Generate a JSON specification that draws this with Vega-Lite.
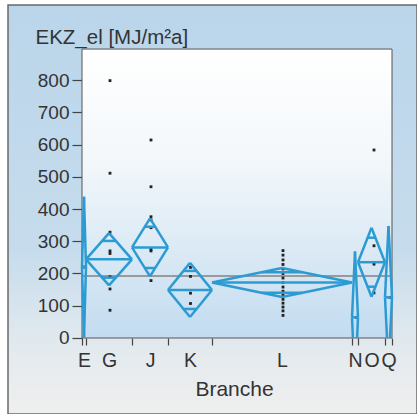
{
  "$schema": "https://vega.github.io/schema/vega-lite/v6.json",
  "width": 409,
  "height": 409,
  "autosize": "none",
  "padding": {"left": 8, "top": 5, "right": 0, "bottom": 0},
  "background": "#ffffff",
  "config": {
    "view": {
      "stroke": "#6a6a6a",
      "strokeWidth": 1.5,
      "fill": {"gradient": "linear", "x1": 0, "y1": 0, "x2": 0, "y2": 1,
        "stops": [
          {"offset": 0, "color": "#bad5ea"},
          {"offset": 0.6, "color": "#c6dcec"},
          {"offset": 0.84, "color": "#e3eaee"},
          {"offset": 1, "color": "#efefee"}
        ]}
    },
    "font": "Liberation Sans"
  },
  "resolve": {"scale": {"x": "shared", "y": "shared"}, "axis": {"x": "independent"}},
  "datasets": {
    "groups": [
      {"g": "E", "x0": 0, "x1": 4, "xc": 2, "mean": 220, "hi": 438, "lbx0": 2, "lbx1": 2, "lby": 2, "ovhi": 374, "ovlo": 66, "ox0": 1.4, "ox1": 2.6},
      {"g": "G", "x0": 4, "x1": 50, "xc": 27, "mean": 244, "hi": 325, "lbx0": 27, "lbx1": 27, "lby": 163, "ovhi": 301, "ovlo": 187, "ox0": 20.3, "ox1": 33.7},
      {"g": "J", "x0": 50, "x1": 86, "xc": 68, "mean": 281, "hi": 371, "lbx0": 68, "lbx1": 68, "lby": 191, "ovhi": 345, "ovlo": 217, "ox0": 62.7, "ox1": 73.3},
      {"g": "K", "x0": 86, "x1": 130, "xc": 108, "mean": 149, "hi": 233, "lbx0": 108, "lbx1": 108, "lby": 65, "ovhi": 208, "ovlo": 90, "ox0": 101.6, "ox1": 114.4},
      {"g": "L", "x0": 130, "x1": 270, "xc": 200, "mean": 172, "hi": 217, "lbx0": 200, "lbx1": 200, "lby": 127, "ovhi": 204, "ovlo": 140, "ox0": 179.6, "ox1": 220.4},
      {"g": "N", "x0": 270, "x1": 276, "xc": 273, "mean": 64, "hi": 268, "lbx0": 270.9, "lbx1": 275.1, "lby": 0, "ovhi": 208, "ovlo": null, "ox0": 272.1, "ox1": 273.9},
      {"g": "O", "x0": 276, "x1": 303, "xc": 289.5, "mean": 235, "hi": 342, "lbx0": 289.5, "lbx1": 289.5, "lby": 128, "ovhi": 311, "ovlo": 159, "ox0": 285.6, "ox1": 293.4},
      {"g": "Q", "x0": 303, "x1": 310, "xc": 306.5, "mean": 126, "hi": 347, "lbx0": 305, "lbx1": 308, "lby": 0, "ovhi": 282, "ovlo": null, "ox0": 305.5, "ox1": 307.5}
    ],
    "points": [
      {"g": "E", "x": 1.5, "v": 220},
      {"g": "G", "x": 28, "v": 798}, {"g": "G", "x": 28, "v": 511}, {"g": "G", "x": 28, "v": 328}, {"g": "G", "x": 28, "v": 270}, {"g": "G", "x": 28, "v": 262}, {"g": "G", "x": 28, "v": 190}, {"g": "G", "x": 28, "v": 152}, {"g": "G", "x": 28, "v": 86},
      {"g": "J", "x": 69, "v": 614}, {"g": "J", "x": 69, "v": 469}, {"g": "J", "x": 69, "v": 376}, {"g": "J", "x": 69, "v": 366}, {"g": "J", "x": 69, "v": 342}, {"g": "J", "x": 69, "v": 275}, {"g": "J", "x": 69, "v": 270}, {"g": "J", "x": 69, "v": 178},
      {"g": "K", "x": 108.5, "v": 219}, {"g": "K", "x": 108.5, "v": 191}, {"g": "K", "x": 108.5, "v": 139}, {"g": "K", "x": 108.5, "v": 107},
      {"g": "L", "x": 201, "v": 271}, {"g": "L", "x": 201, "v": 257}, {"g": "L", "x": 201, "v": 242}, {"g": "L", "x": 201, "v": 228}, {"g": "L", "x": 201, "v": 214}, {"g": "L", "x": 201, "v": 200}, {"g": "L", "x": 201, "v": 186}, {"g": "L", "x": 201, "v": 172}, {"g": "L", "x": 201, "v": 158}, {"g": "L", "x": 201, "v": 145}, {"g": "L", "x": 201, "v": 132}, {"g": "L", "x": 201, "v": 120}, {"g": "L", "x": 201, "v": 108}, {"g": "L", "x": 201, "v": 96}, {"g": "L", "x": 201, "v": 84}, {"g": "L", "x": 201, "v": 70},
      {"g": "N", "x": 274.7, "v": 64},
      {"g": "O", "x": 292, "v": 583}, {"g": "O", "x": 292, "v": 286}, {"g": "O", "x": 292, "v": 229}, {"g": "O", "x": 292, "v": 140},
      {"g": "Q", "x": 308, "v": 126}
    ]
  },
  "layer": [
    {
      "data": {"values": [{}]},
      "mark": {"type": "rect", "stroke": "#555555", "strokeWidth": 1,
        "fill": {"gradient": "linear", "x1": 0, "y1": 0, "x2": 0, "y2": 1,
          "stops": [
            {"offset": 0, "color": "#ffffff"},
            {"offset": 0.4, "color": "#f2f7fa"},
            {"offset": 1, "color": "#c3dcf0"}
          ]}},
      "encoding": {
        "x": {"datum": 0, "type": "quantitative",
          "scale": {"domain": [-74, 335], "nice": false, "zero": false},
          "axis": {
            "orient": "bottom",
            "values": [0, 4, 50, 86, 130, 270, 276, 303, 310],
            "labels": false,
            "offset": -76,
            "domain": false,
            "grid": false,
            "tickSize": 7,
            "tickColor": "#444444",
            "tickWidth": 1.2,
            "title": "Branche",
            "titleFontSize": 21,
            "titleFontWeight": "normal",
            "titleColor": "#333333",
            "titleAlign": "center",
            "titleBaseline": "alphabetic",
            "titleX": 226,
            "titleY": 57
          }},
        "x2": {"datum": 310},
        "y": {"datum": 0, "type": "quantitative",
          "scale": {"domain": [-235.7, 1032.6], "nice": false, "zero": false},
          "axis": {
            "values": [0, 100, 200, 300, 400, 500, 600, 700, 800],
            "offset": -74,
            "domain": false,
            "grid": false,
            "tickSize": 10,
            "tickColor": "#444444",
            "tickWidth": 1.2,
            "labelFontSize": 19,
            "labelColor": "#333333",
            "labelPadding": 3,
            "title": "EKZ_el [MJ/m²a]",
            "titleAngle": 0,
            "titleAlign": "left",
            "titleBaseline": "alphabetic",
            "titleFontSize": 20.5,
            "titleFontWeight": "normal",
            "titleColor": "#333333",
            "titleX": -47,
            "titleY": 38
          }},
        "y2": {"datum": 896}
      }
    },
    {
      "data": {"values": [{}]},
      "mark": {"type": "rule", "color": "#9a9a9a", "strokeWidth": 2},
      "encoding": {
        "x": {"datum": 0, "type": "quantitative", "axis": null},
        "x2": {"datum": 310},
        "y": {"datum": 192, "type": "quantitative"}
      }
    },
    {
      "data": {"name": "points"},
      "mark": {"type": "square", "size": 8, "color": "#222222", "opacity": 1},
      "encoding": {
        "x": {"field": "x", "type": "quantitative",
          "axis": {
            "orient": "bottom",
            "values": [2, 27, 68, 108, 200, 273, 289.5, 306.5],
            "labelExpr": "datum.value == 2 ? 'E' : datum.value == 27 ? 'G' : datum.value == 68 ? 'J' : datum.value == 108 ? 'K' : datum.value == 200 ? 'L' : datum.value == 273 ? 'N' : datum.value == 289.5 ? 'O' : 'Q'",
            "ticks": false,
            "offset": -76,
            "domain": false,
            "grid": false,
            "labelFontSize": 19.5,
            "labelColor": "#333333",
            "labelPadding": 13,
            "labelOverlap": false,
            "labelFlush": false,
            "labelBound": false,
            "title": null
          }},
        "y": {"field": "v", "type": "quantitative"}
      }
    },
    {
      "data": {"name": "groups"},
      "mark": {"type": "rule", "color": "#2c9bd4", "strokeWidth": 2.5},
      "encoding": {
        "x": {"field": "x0", "type": "quantitative", "axis": null},
        "y": {"field": "mean", "type": "quantitative"},
        "x2": {"field": "xc"},
        "y2": {"field": "hi"}
      }
    },
    {
      "data": {"name": "groups"},
      "mark": {"type": "rule", "color": "#2c9bd4", "strokeWidth": 2.5},
      "encoding": {
        "x": {"field": "x1", "type": "quantitative", "axis": null},
        "y": {"field": "mean", "type": "quantitative"},
        "x2": {"field": "xc"},
        "y2": {"field": "hi"}
      }
    },
    {
      "data": {"name": "groups"},
      "mark": {"type": "rule", "color": "#2c9bd4", "strokeWidth": 2.5},
      "encoding": {
        "x": {"field": "x0", "type": "quantitative", "axis": null},
        "y": {"field": "mean", "type": "quantitative"},
        "x2": {"field": "lbx0"},
        "y2": {"field": "lby"}
      }
    },
    {
      "data": {"name": "groups"},
      "mark": {"type": "rule", "color": "#2c9bd4", "strokeWidth": 2.5},
      "encoding": {
        "x": {"field": "x1", "type": "quantitative", "axis": null},
        "y": {"field": "mean", "type": "quantitative"},
        "x2": {"field": "lbx1"},
        "y2": {"field": "lby"}
      }
    },
    {
      "data": {"name": "groups"},
      "mark": {"type": "rule", "color": "#2c9bd4", "strokeWidth": 2.5},
      "encoding": {
        "x": {"field": "x0", "type": "quantitative", "axis": null},
        "x2": {"field": "x1"},
        "y": {"field": "mean", "type": "quantitative"}
      }
    },
    {
      "data": {"name": "groups"},
      "mark": {"type": "rule", "color": "#2c9bd4", "strokeWidth": 2.5},
      "encoding": {
        "x": {"field": "ox0", "type": "quantitative", "axis": null},
        "x2": {"field": "ox1"},
        "y": {"field": "ovhi", "type": "quantitative"}
      }
    },
    {
      "data": {"name": "groups"},
      "mark": {"type": "rule", "color": "#2c9bd4", "strokeWidth": 2.5},
      "encoding": {
        "x": {"field": "ox0", "type": "quantitative", "axis": null},
        "x2": {"field": "ox1"},
        "y": {"field": "ovlo", "type": "quantitative"}
      }
    }
  ]
}
